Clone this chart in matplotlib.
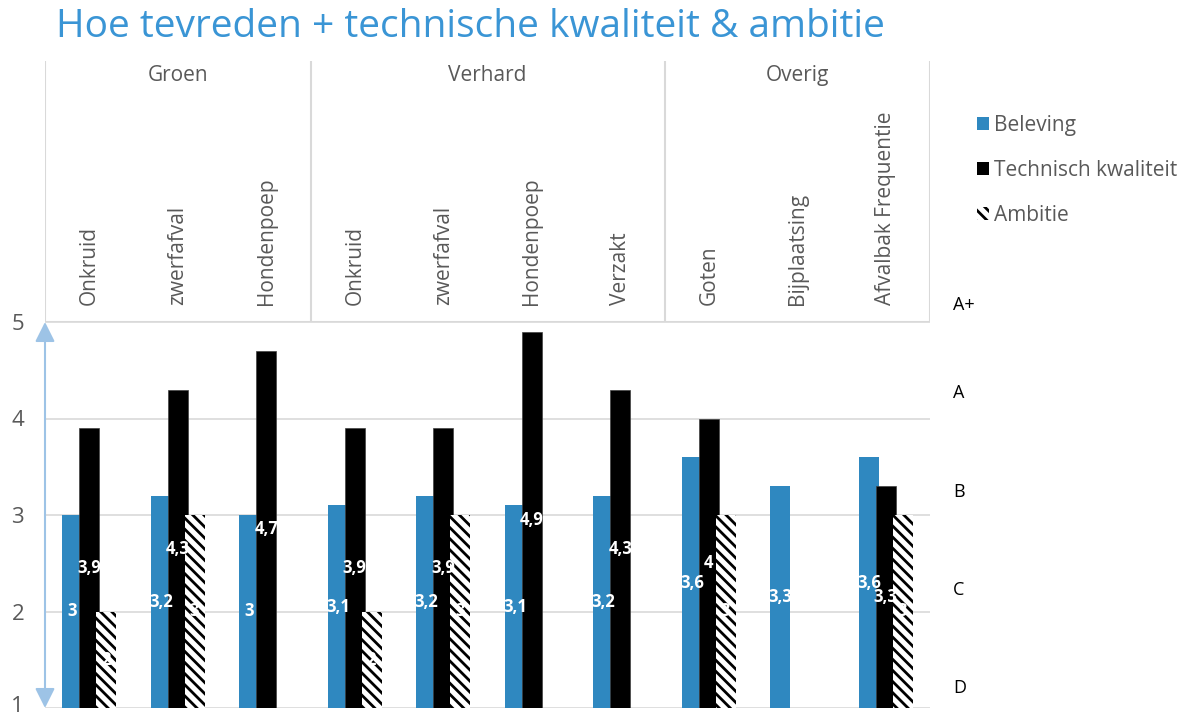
import numpy as np
import matplotlib
matplotlib.use("Agg")
import matplotlib.pyplot as plt
import matplotlib.transforms as mtrans
from matplotlib.patches import Patch

plt.rcParams['font.family'] = ['Open Sans', 'DejaVu Sans']
plt.rcParams['hatch.linewidth'] = 2.0

# ---- data ----
groups = ["Groen", "Verhard", "Overig"]
group_sizes = [3, 4, 3]
categories = ["Onkruid", "zwerfafval", "Hondenpoep",
              "Onkruid", "zwerfafval", "Hondenpoep", "Verzakt",
              "Goten", "Bijplaatsing", "Afvalbak Frequentie"]
beleving = [3, 3.2, 3, 3.1, 3.2, 3.1, 3.2, 3.6, 3.3, 3.6]
technisch = [3.9, 4.3, 4.7, 3.9, 3.9, 4.9, 4.3, 4, np.nan, 3.3]
ambitie = [2, 3, np.nan, 2, 3, np.nan, np.nan, 3, np.nan, 3]
series_names = ["Beleving", "Technisch kwaliteit", "Ambitie"]
yticks = [1, 2, 3, 4, 5]
grades = ["A+", "A", "B", "C", "D"]
title = "Hoe tevreden + technische kwaliteit & ambitie"

BLUE = '#2F88C0'
GRAY_TXT = '#595959'
GRID = '#D9D9D9'
HATCH = '\\\\\\'

W, H = 1191, 715
fig = plt.figure(figsize=(W / 100, H / 100), dpi=100)

def px_axes(x0, y0, x1, y1):
    return fig.add_axes([x0 / W, 1 - y1 / H, (x1 - x0) / W, (y1 - y0) / H])

left, right, top, bottom = 45, 930, 322, 708
ax = px_axes(left, top, right, bottom)
n = len(categories)
x = np.arange(n)
ax.set_xlim(-0.5, n - 0.5)
ax.set_ylim(1, 5)

bw = 0.226
off = 0.19
all_series = [beleving, technisch, ambitie]
styles = [dict(color=BLUE, linewidth=0),
          dict(color='black', edgecolor='#404040', linewidth=0.5),
          dict(facecolor='white', edgecolor='black', hatch=HATCH, linewidth=0)]
for i, (vals, st) in enumerate(zip(all_series, styles)):
    vals = np.array(vals, dtype=float)
    m = ~np.isnan(vals)
    xs = x[m] + (i - 1) * off
    ax.bar(xs, vals[m] - 1, bottom=1, width=bw, zorder=2 + i, **st)
    for xx, v in zip(xs, vals[m]):
        lab = f"{v:g}".replace('.', ',')
        ax.text(xx, (1 + v) / 2, lab, ha='center', va='center', color='white',
                fontsize=12, fontweight='bold', zorder=10)

ax.set_yticks(yticks)
ax.set_yticklabels([str(t) for t in yticks], color=GRAY_TXT, fontsize=16)
ax.tick_params(axis='y', length=0, pad=15)
ax.set_xticks([])
ax.grid(axis='y', color=GRID, linewidth=1.2, zorder=0)
ax.set_axisbelow(True)
for s in ax.spines.values():
    s.set_visible(False)
# nudge lowest tick label up a little so it stays inside the canvas
lowest = ax.get_yticklabels()[0]
lowest.set_transform(lowest.get_transform() +
                     mtrans.ScaledTranslation(0, 4 / 100, fig.dpi_scale_trans))
ax.annotate('', xy=(-0.5, 5), xytext=(-0.5, 1), xycoords='data',
            arrowprops=dict(arrowstyle='<|-|>', color='#9DC3E6', lw=1.5,
                            mutation_scale=30, shrinkA=0, shrinkB=0),
            annotation_clip=False, zorder=12)

# ---- header with categories ----
hx = px_axes(left, 61, right, top)
hx.set_xlim(-0.5, n - 0.5)
hx.set_ylim(0, 1)
hx.axis('off')
hx.axhline(0, color=GRID, lw=1.5)
bounds = np.concatenate([[0], np.cumsum(group_sizes)]) - 0.5
for b in bounds:
    hx.axvline(b, color=GRID, lw=1.5)
for gname, a, b in zip(groups, bounds[:-1], bounds[1:]):
    hx.text((a + b) / 2, 0.945, gname, ha='center', va='center', fontsize=15, color=GRAY_TXT)
for xi, c in zip(x, categories):
    hx.text(xi, 0.065, c, rotation=90, ha='center', va='bottom', fontsize=15, color=GRAY_TXT)

# ---- right grade labels ----
grade_y = [305, 393, 492, 590, 688]
for g, yy in zip(grades, grade_y):
    fig.text(953 / W, 1 - yy / H, g, ha='left', va='center', fontsize=13, color='black')

# ---- legend ----
handles = [Patch(facecolor=BLUE, edgecolor='none'),
           Patch(facecolor='black', edgecolor='none'),
           Patch(facecolor='white', edgecolor='black', hatch=HATCH, linewidth=0)]
fig.legend(handles, series_names, loc='upper left', bbox_to_anchor=(958 / W, 1 - 96 / H),
           frameon=False, fontsize=15, handlelength=0.6, handleheight=0.6,
           handletextpad=0.25, labelspacing=1.15, labelcolor=GRAY_TXT)

fig.text(470 / W, 1 - 27 / H, title, ha='center', va='center', fontsize=28, color='#3A95D5')

fig.savefig('out.png', dpi=100)
